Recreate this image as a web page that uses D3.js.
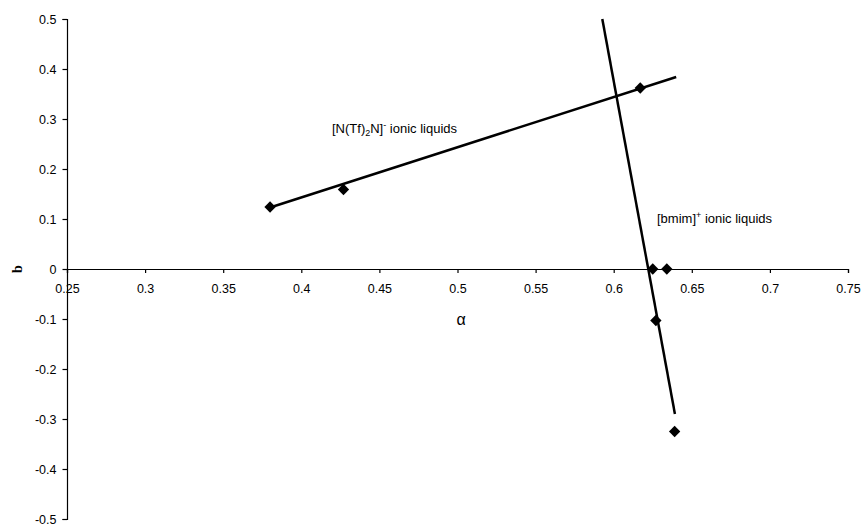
<!DOCTYPE html>
<html>
<head>
<meta charset="utf-8">
<script src="https://cdn.jsdelivr.net/npm/d3@7"></script>
<style>
  html, body { margin: 0; padding: 0; background: #fff; }
  svg { display: block; }
  .axis text { font-family: "Liberation Sans", Arial, sans-serif; font-size: 12.5px; fill: #000; }
  .axis path, .axis line { stroke: #000; stroke-width: 1.2; }
</style>
</head>
<body>
<div id="container"></div>
<script>
// 数据：数值
const alphaTf = [0.380, 0.427, 0.617];   // [N(Tf)2N]- ionic liquids
const bTf = [0.124, 0.159, 0.362];
const alphaBmim = [0.625, 0.634, 0.627, 0.639]; // [bmim]+ ionic liquids
const bBmim = [0.0, 0.0, -0.103, -0.325];

// 两条趋势线的端点
const fitTfAlpha = [0.380, 0.640];
const fitTfB = [0.123, 0.384];
const fitBmimAlpha = [0.5927, 0.6392];
const fitBmimB = [0.5, -0.29];

// 刻度
const xTicks = [0.25, 0.3, 0.35, 0.4, 0.45, 0.5, 0.55, 0.6, 0.65, 0.7, 0.75];
const xTickLabels = ["0.25", "0.3", "0.35", "0.4", "0.45", "0.5", "0.55", "0.6", "0.65", "0.7", "0.75"];
const yTicks = [-0.5, -0.4, -0.3, -0.2, -0.1, 0, 0.1, 0.2, 0.3, 0.4, 0.5];
const yTickLabels = ["-0.5", "-0.4", "-0.3", "-0.2", "-0.1", "0", "0.1", "0.2", "0.3", "0.4", "0.5"];

const width = 863;
const height = 526;
const marginLeft = 67;
const marginRight = 15;
const marginTop = 19;
const marginBottom = 7;

const svg = d3.select("#container")
  .append("svg")
  .attr("width", width)
  .attr("height", height);

const x = d3.scaleLinear([0.25, 0.75], [marginLeft, width - marginRight]);
const y = d3.scaleLinear([-0.5, 0.5], [height - marginBottom, marginTop]);

// 横轴放在 b = 0 的位置
svg.append("g")
  .attr("class", "axis")
  .attr("transform", `translate(0,${y(0)})`)
  .call(d3.axisBottom(x)
    .tickValues(xTicks)
    .tickFormat((d, i) => xTickLabels[i])
    .tickSizeOuter(0)
    .tickSize(4)
    .tickPadding(11));

// 纵轴
svg.append("g")
  .attr("class", "axis")
  .attr("transform", `translate(${x(0.25)},0)`)
  .call(d3.axisLeft(y)
    .tickValues(yTicks)
    .tickFormat((d, i) => yTickLabels[i])
    .tickSizeOuter(0)
    .tickSize(4.5)
    .tickPadding(6));

// 趋势线
const line = d3.line().x(d => x(d[0])).y(d => y(d[1]));
svg.append("path")
  .attr("d", line(d3.zip(fitTfAlpha, fitTfB)))
  .attr("fill", "none")
  .attr("stroke", "#000")
  .attr("stroke-width", 2.5);
svg.append("path")
  .attr("d", line(d3.zip(fitBmimAlpha, fitBmimB)))
  .attr("fill", "none")
  .attr("stroke", "#000")
  .attr("stroke-width", 2.5);

// 菱形数据点
const diamond = d3.symbol(d3.symbolSquare, 64)();
const points = d3.zip(alphaTf, bTf).concat(d3.zip(alphaBmim, bBmim));
svg.append("g")
  .selectAll("path")
  .data(points)
  .join("path")
  .attr("d", diamond)
  .attr("fill", "#000")
  .attr("transform", d => `translate(${x(d[0])},${y(d[1])}) rotate(45)`);

// 系列标注
const label1 = svg.append("text")
  .attr("x", 332)
  .attr("y", 133)
  .attr("font-family", "Liberation Sans, Arial, sans-serif")
  .attr("font-size", 13)
  .attr("fill", "#000");
label1.append("tspan").text("[N(Tf)");
label1.append("tspan").attr("font-size", 9).attr("dy", 3).text("2");
label1.append("tspan").attr("dy", -3).text("N]");
label1.append("tspan").attr("font-size", 9).attr("dy", -5).text("-");
label1.append("tspan").attr("dy", 5).text(" ionic liquids");

const label2 = svg.append("text")
  .attr("x", 657)
  .attr("y", 223)
  .attr("font-family", "Liberation Sans, Arial, sans-serif")
  .attr("font-size", 13)
  .attr("fill", "#000");
label2.append("tspan").text("[bmim]");
label2.append("tspan").attr("font-size", 9).attr("dy", -5).text("+");
label2.append("tspan").attr("dy", 5).text(" ionic liquids");

// 坐标轴标题
svg.append("text")
  .attr("x", 461)
  .attr("y", 325)
  .attr("text-anchor", "middle")
  .attr("font-family", "Liberation Sans, Arial, sans-serif")
  .attr("font-size", 16)
  .attr("fill", "#000")
  .text("α");

svg.append("text")
  .attr("transform", `translate(22,${y(0)}) rotate(-90)`)
  .attr("text-anchor", "middle")
  .attr("font-family", "Liberation Serif, Times New Roman, serif")
  .attr("font-weight", "bold")
  .attr("font-size", 14)
  .attr("fill", "#000")
  .text("b");
</script>
</body>
</html>
